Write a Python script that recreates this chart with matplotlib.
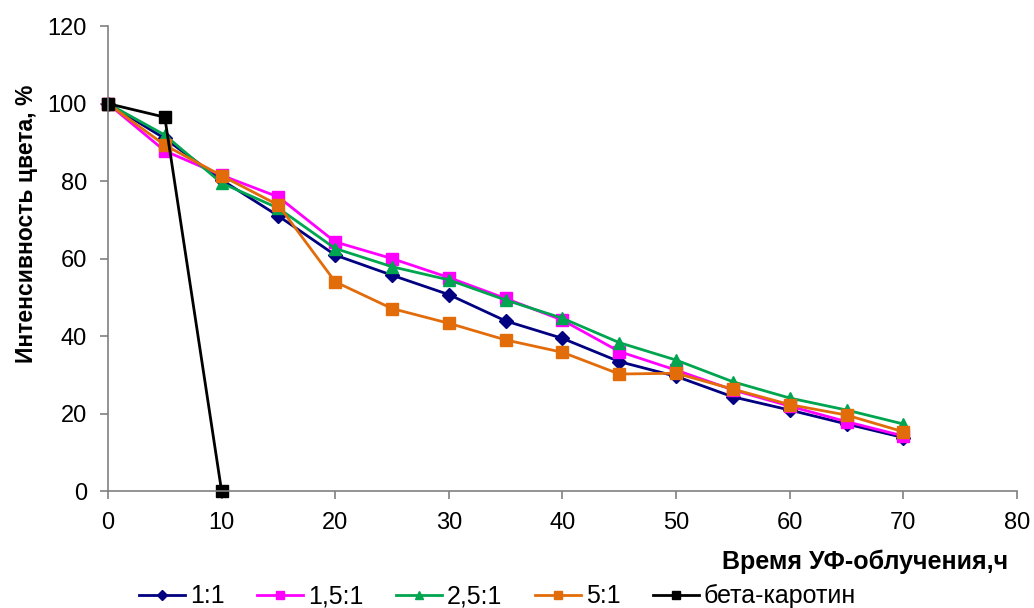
import matplotlib.pyplot as plt

plt.rcParams['font.family'] = ['Liberation Sans', 'DejaVu Sans']

t = [0, 5, 10, 15, 20, 25, 30, 35, 40, 45, 50, 55, 60, 65, 70]
s11 = [100, 91.0, 80.3, 71.0, 60.9, 55.7, 50.7, 43.9, 39.4, 33.4, 29.6, 24.3, 20.9, 17.3, 13.8]
s151 = [100, 87.8, 81.5, 75.9, 64.3, 60.0, 55.1, 49.7, 44.1, 36.0, 31.2, 26.1, 21.9, 17.9, 14.2]
s251 = [100, 91.9, 79.5, 73.0, 62.6, 57.9, 54.5, 49.3, 44.6, 38.3, 33.8, 28.2, 24.0, 20.9, 17.3]
s51 = [100, 89.3, 81.4, 73.8, 54.0, 47.1, 43.3, 39.0, 35.8, 30.2, 30.4, 26.3, 22.3, 19.6, 15.3]
t_bc = [0, 5, 10]
s_bc = [100, 96.5, 0]

labels = ['1:1', '1,5:1', '2,5:1', '5:1', 'бета-каротин']

fig = plt.figure(figsize=(10.34, 6.08), dpi=100)
ax = fig.add_axes([0.1044, 0.1924, 0.8792, 0.7646])

ax.plot(t, s11, color='#000080', marker='D', markersize=7, lw=2, label=labels[0])
ax.plot(t, s151, color='#FF00FF', marker='s', markersize=9, lw=2, label=labels[1])
ax.plot(t, s251, color='#00A550', marker='^', markersize=9, lw=2, label=labels[2])
ax.plot(t, s51, color='#E36C0A', marker='s', markersize=9, lw=2, label=labels[3])
ax.plot(t_bc, s_bc, color='black', marker='s', markersize=9, lw=2, label=labels[4])
for l in ax.lines:
    l.set_clip_on(False)

ax.set_xlim(0, 80)
ax.set_ylim(0, 120)
ax.set_xticks(range(0, 81, 10))
ax.set_yticks(range(0, 121, 20))
for s in ['top', 'right']:
    ax.spines[s].set_visible(False)
for s in ['left', 'bottom']:
    ax.spines[s].set_color('#808080')
    ax.spines[s].set_linewidth(1.2)
ax.tick_params(direction='out', length=6, width=1.2, color='#808080',
               labelsize=17)
ax.tick_params(axis='x', pad=9)
ax.tick_params(axis='y', pad=9)

ax.set_ylabel('Интенсивность цвета, %', fontsize=16.5, fontweight='bold')
ax.yaxis.set_label_coords(-0.077, 0.575)
fig.text(0.975, 0.076, 'Время УФ-облучения,ч', fontsize=18, fontweight='bold',
         ha='right', va='center')

ax.legend(loc='center', bbox_to_anchor=(0.481, 0.019), bbox_transform=fig.transFigure,
          ncol=5, frameon=False, fontsize=18, handlelength=1.84, handletextpad=0.2,
          columnspacing=1.3, markerscale=0.7, borderpad=0)

fig.savefig('out.png', dpi=100)
